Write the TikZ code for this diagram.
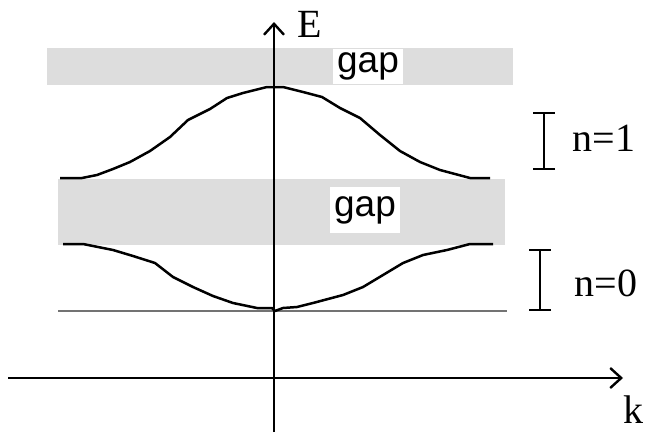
\documentclass[tikz,border=0pt]{standalone}
\usepackage{fontspec}
\setmainfont{Liberation Serif}
\newfontfamily\gapfont{Liberation Sans}
\usetikzlibrary{arrows.meta, positioning}

\begin{document}
\begin{tikzpicture}[
    x=0.5pt, y=-0.5pt,
    axis/.style={line width=1.2pt, -{Straight Barb[length=5.5pt, width=10pt]}},
    band/.style={line width=1.25pt, line join=round},
    gapband/.style={fill=gray!27, draw=none},
    gaplabel/.style={fill=white, inner sep=0pt, minimum width=35pt,
                     font=\gapfont\fontsize{18.5}{22}\selectfont},
    lbl/.style={inner sep=0pt, font=\fontsize{20}{24}\selectfont},
    span/.style={line width=1.1pt, {Bar[width=11pt]}-{Bar[width=11pt]}}
  ]
  \useasboundingbox (0,0) rectangle (648,434);
  % gaps
  \fill[gapband] (47,48) rectangle (513,85);
  \fill[gapband] (58,179) rectangle (505,245);
  \node[gaplabel, minimum height=17.5pt] (gapup) at (368,66) {gap};
  \node[gaplabel, minimum height=23pt] (gaplow) at (365,210) {gap};
  % bottom of the lowest band
  \draw[line width=1.2pt, black!55] (58,311) -- (507,311);
  % n=1 band
  \draw[band] plot coordinates {(60,178) (82,178) (97,175) (113,169) (130,162)
    (150,151) (170,137) (188,120) (210,109) (227,98) (243,93) (267,87)
    (283,87) (303,92) (322,97) (340,108) (360,118) (380,135) (400,151)
    (420,162) (440,170) (470,178) (490,178)};
  % n=0 band
  \draw[band] plot coordinates {(63,244) (83,244) (113,250) (133,256) (155,263)
    (173,277) (193,287) (213,296) (233,303) (257,308) (272,308) (275,311)
    (283,308) (297,307) (313,303) (343,295) (363,287) (383,275) (403,263)
    (423,255) (447,250) (470,244) (493,244)};
  % axes
  \coordinate (ebot) at (274,432);
  \coordinate (etop) at (274,22);
  \coordinate (kleft) at (8,378);
  \coordinate (kright) at (623,378);
  \draw[axis] (ebot) -- (etop);
  \draw[axis] (kleft) -- (kright);
  \node[lbl] (elbl) at (310,24) {E};
  \node[lbl] (klbl) at (633,410) {k};
  % band widths
  \coordinate (n1top) at (544,112);
  \coordinate (n1bot) at (544,170);
  \coordinate (n0top) at (540,249);
  \coordinate (n0bot) at (540,311);
  \draw[span] (n1top) -- (n1bot);
  \draw[span] (n0top) -- (n0bot);
  \node[lbl] (n1lbl) at (604,138) {n=1};
  \node[lbl] (n0lbl) at (606,283) {n=0};
\end{tikzpicture}
\end{document}
